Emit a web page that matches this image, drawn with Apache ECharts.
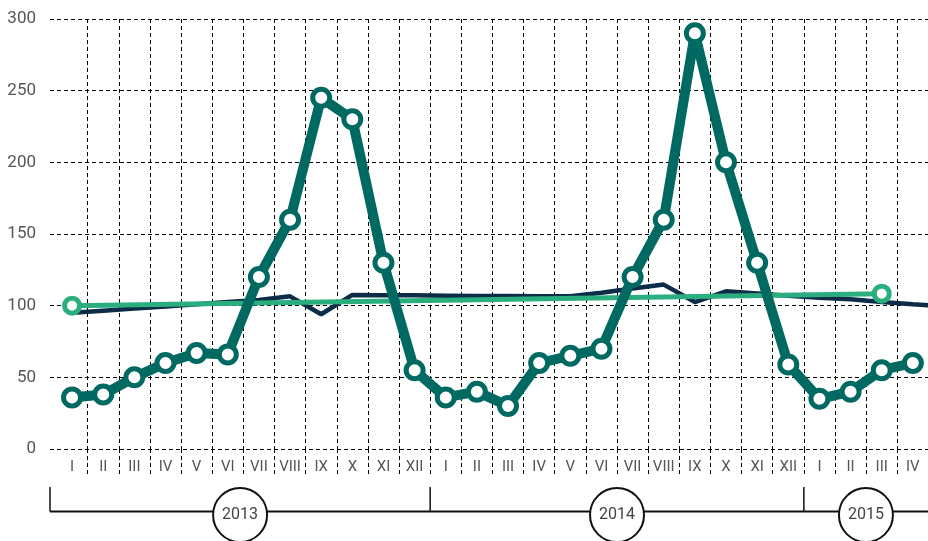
<!DOCTYPE html>
<html>
<head>
<meta charset="utf-8">
<script src="https://cdn.jsdelivr.net/npm/echarts@6/dist/echarts.min.js"></script>
<style>
html,body{margin:0;padding:0;background:#fff}
#chart{width:928px;height:541px}
</style>
</head>
<body>
<div id="chart"></div>
<script>
// months from I 2013 to V 2015 (V is just past the right edge)
var months = ['I','II','III','IV','V','VI','VII','VIII','IX','X','XI','XII',
              'I','II','III','IV','V','VI','VII','VIII','IX','X','XI','XII',
              'I','II','III','IV','V'];
var years = ['2013','2014','2015'];
var yearFirst = [0, 12, 24];
var yearLast = [11, 23, 28];

// thick teal series
var sales = [36,38,50,60,67,66,120,160,245,230,130,55,
             36,40,30,60,65,70,120,160,290,200,130,59,
             35,40,55,60,null];
// dark navy series
var index = [95,96.5,98,99.5,101,102.5,104,106.5,94,107.5,107.3,107.2,
             107,106.8,106.7,106.6,106.6,109,112,114.7,102.5,110,108.5,107,
             105.6,104.5,102.6,101,99.5];
// green trend line: two end points
var trend = [[0,100],[26,108.4]];

var gridLeft = 50, bandLeft = 56.5, band = 31.14;
var font = 'Roboto, "Noto Sans", sans-serif';
var dash = {type:[4,3], color:'#000', width:1};

var chart = echarts.init(document.getElementById('chart'));
chart.setOption({
    animation:false,
    backgroundColor:'#fff',
    grid:[
        {left:gridLeft, right:0, top:19, bottom:92, outerBoundsMode:'none'},
        {left:bandLeft, width:band*months.length, top:19, bottom:92, outerBoundsMode:'none'}
    ],
    xAxis:[
        {gridIndex:0, type:'value', min:0, max:1, show:false},
        {
            gridIndex:1, type:'category', data:months, boundaryGap:true,
            axisLine:{show:false},
            axisTick:{show:true, length:28, lineStyle:dash, interval:function(i){return i>0;}},
            splitLine:{show:true, lineStyle:dash, interval:function(i){return i>0;}},
            axisLabel:{color:'#555', fontSize:15, fontFamily:font, margin:11, interval:0}
        }
    ],
    yAxis:[
        {
            gridIndex:0, type:'value', min:0, max:300, interval:50,
            axisLine:{show:false}, axisTick:{show:false},
            axisLabel:{color:'#555', fontSize:17, fontFamily:font, margin:14},
            splitLine:{show:true, lineStyle:dash}
        },
        {gridIndex:1, type:'value', min:0, max:300, show:false}
    ],
    series:[
        {
            name:'index', type:'line', xAxisIndex:1, yAxisIndex:1, data:index,
            symbol:'none', z:2,
            lineStyle:{color:'#0c2c48', width:4.5}
        },
        {
            name:'trend', type:'line', xAxisIndex:1, yAxisIndex:1, data:trend,
            symbol:'circle', symbolSize:15, z:3,
            lineStyle:{color:'#2bae7e', width:5},
            itemStyle:{color:'#fff', borderColor:'#2bae7e', borderWidth:5}
        },
        {
            name:'sales', type:'line', xAxisIndex:1, yAxisIndex:1, data:sales,
            symbol:'circle', symbolSize:17, showAllSymbol:true, z:4,
            lineStyle:{color:'#006a62', width:10, join:'round'},
            itemStyle:{color:'#fff', borderColor:'#006a62', borderWidth:5}
        },
        {
            name:'years', type:'custom', xAxisIndex:1, yAxisIndex:1, clip:false, z:5,
            data:years.map(function(y,i){return [yearFirst[i], yearLast[i], y];}),
            renderItem:function(params, api){
                var w = api.size([1,0])[0];
                var first = api.value(0), last = api.value(1);
                var x0 = first === 0 ? gridLeft : api.coord([first,0])[0] - w/2;
                var x1 = Math.min(api.coord([last,0])[0] + w/2, api.getWidth());
                var base = api.coord([0,0])[1];
                var lineY = base + 62.5;
                var cx = (x0 + x1) / 2, cy = base + 66;
                var stroke = {stroke:'#111', lineWidth:2};
                return {
                    type:'group',
                    children:[
                        {type:'line', shape:{x1:x0, y1:lineY, x2:x1, y2:lineY}, style:stroke},
                        {type:'line', shape:{x1:x0, y1:base+38, x2:x0, y2:lineY}, style:{stroke:'#111', lineWidth:1.5}},
                        {type:'circle', shape:{cx:cx, cy:cy, r:27}, style:{fill:'#fff', stroke:'#111', lineWidth:2}},
                        {type:'text', x:cx, y:cy, style:{text:api.value(2), fill:'#444', font:'16px ' + font, align:'center', verticalAlign:'middle'}}
                    ]
                };
            }
        }
    ]
});
</script>
</body>
</html>
